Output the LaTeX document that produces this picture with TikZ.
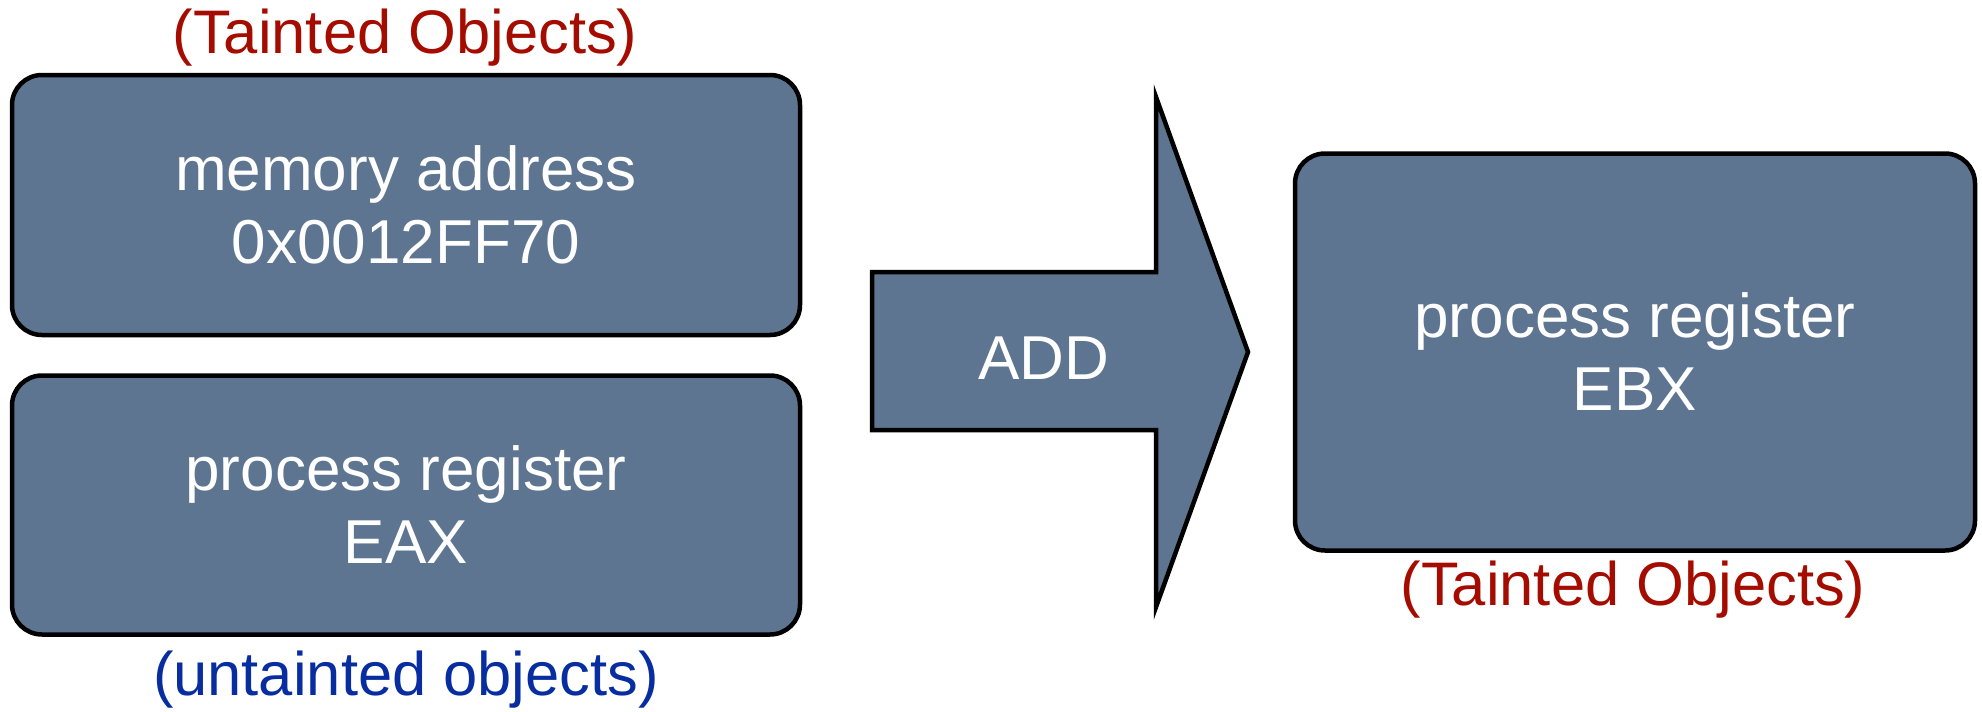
\documentclass[tikz,border=0pt]{standalone}
\usepackage{fontspec}
\setmainfont{Liberation Sans}
\definecolor{boxfill}{RGB}{94,117,145}
\definecolor{taintred}{RGB}{165,12,0}
\definecolor{untblue}{RGB}{8,45,160}
\begin{document}
\begin{tikzpicture}[x=1pt,y=-1pt,
  objbox/.style={draw=black,line width=4.5pt,fill=boxfill,rounded corners=30pt,
    inner sep=0pt,text=white,align=center,font=\fontsize{62}{73}\selectfont},
  lbl/.style={inner sep=0pt,font=\fontsize{61.5}{72}\selectfont}]
\useasboundingbox (0,0) rectangle (1982,712);
\node[objbox,minimum width=788pt,minimum height=260pt] (mem) at (406,205)
  {memory address\\0x0012FF70};
\node[objbox,minimum width=788pt,minimum height=259pt] (eax) at (406,505)
  {process register\\EAX};
\node[objbox,minimum width=680pt,minimum height=397pt] (ebx) at (1635,352)
  {process register\\EBX};
\draw[line width=4.5pt,fill=boxfill,line join=miter]
  (872,272) -- (1156,272) -- (1156,97) -- (1248,352) -- (1156,607)
  -- (1156,430) -- (872,430) -- cycle;
\node[lbl,text=white,font=\fontsize{62}{72}\selectfont] (add) at (1044,358) {ADD};
\node[lbl,text=taintred] (t1) at (405,38) {(Tainted Objects)};
\node[lbl,text=untblue] (u1) at (406,680) {(untainted objects)};
\node[lbl,text=taintred] (t2) at (1633,590) {(Tainted Objects)};
\end{tikzpicture}
\end{document}
